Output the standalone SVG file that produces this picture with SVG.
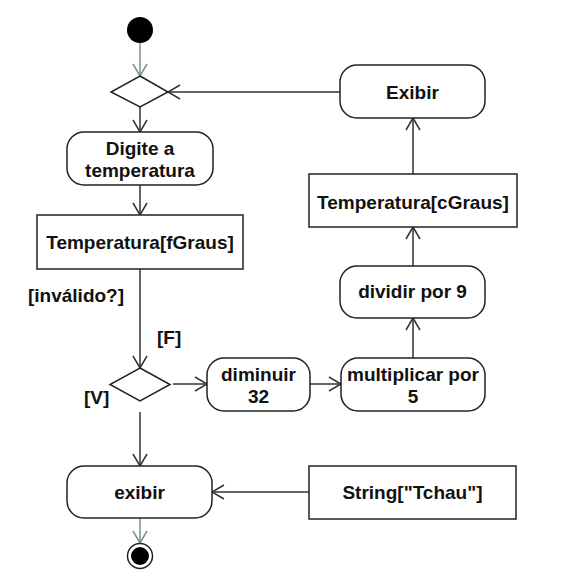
<svg xmlns="http://www.w3.org/2000/svg" width="562" height="578" viewBox="0 0 562 578">
<style>
text{font-family:"Liberation Sans",Arial,Helvetica,sans-serif;font-weight:bold;font-size:19px;fill:#111;}
.c{text-anchor:middle;}
.box{fill:#fff;stroke:#222;stroke-width:1.5;}
.ln{fill:none;stroke:#333;stroke-width:1.5;}
.gl{fill:none;stroke:#7d9090;stroke-width:1.5;}
</style>
<defs>
<marker id="ah" viewBox="0 0 14 16" refX="13" refY="8" markerWidth="14" markerHeight="16" markerUnits="userSpaceOnUse" orient="auto">
<path d="M1,1 L13,8 L1,15" fill="none" stroke="#333" stroke-width="1.5"/>
</marker>
<marker id="ahg" viewBox="0 0 14 16" refX="13" refY="8" markerWidth="14" markerHeight="16" markerUnits="userSpaceOnUse" orient="auto">
<path d="M1,1 L13,8 L1,15" fill="none" stroke="#7d9090" stroke-width="1.5"/>
</marker>
</defs>
<rect width="562" height="578" fill="#fff"/>
<g id="connectors">
<line class="gl" x1="140" y1="43" x2="140" y2="76" marker-end="url(#ahg)"/>
<line class="ln" x1="340" y1="92" x2="168" y2="92" marker-end="url(#ah)"/>
<line class="ln" x1="140" y1="107" x2="140" y2="132" marker-end="url(#ah)"/>
<line class="ln" x1="140" y1="185" x2="140" y2="215" marker-end="url(#ah)"/>
<line class="ln" x1="140" y1="269" x2="140" y2="368" marker-end="url(#ah)"/>
<line class="ln" x1="173" y1="384" x2="207" y2="384" marker-end="url(#ah)"/>
<line class="ln" x1="310" y1="384" x2="341" y2="384" marker-end="url(#ah)"/>
<line class="ln" x1="413" y1="358" x2="413" y2="318" marker-end="url(#ah)"/>
<line class="ln" x1="413" y1="266" x2="413" y2="227" marker-end="url(#ah)"/>
<line class="ln" x1="413" y1="174" x2="413" y2="118" marker-end="url(#ah)"/>
<line class="ln" x1="140" y1="412" x2="140" y2="466" marker-end="url(#ah)"/>
<line class="ln" x1="309" y1="492" x2="212" y2="492" marker-end="url(#ah)"/>
<line class="gl" x1="140" y1="518" x2="140" y2="543" marker-end="url(#ahg)"/>
<text x="28" y="302">[inválido?]</text>
<text x="157" y="344">[F]</text>
<text x="84" y="404">[V]</text>
</g>
<g id="start"><circle cx="140" cy="30" r="13" fill="#000"/></g>
<g id="merge"><polygon class="box" points="140,76 168,92 140,107 111,92"/></g>
<g id="digite"><rect class="box" x="67" y="132" width="146" height="53" rx="17"/><text class="c" x="140" y="155">Digite a</text><text class="c" x="140" y="177">temperatura</text></g>
<g id="tempF"><rect class="box" x="37" y="215" width="206" height="54"/><text class="c" x="140" y="249">Temperatura[fGraus]</text></g>
<g id="decision"><polygon class="box" points="140,368 170,384.5 140,401 110,384.5"/></g>
<g id="diminuir"><rect class="box" x="207" y="358" width="103" height="53" rx="17"/><text class="c" x="258.5" y="381">diminuir</text><text class="c" x="258.5" y="403">32</text></g>
<g id="multiplicar"><rect class="box" x="341" y="358" width="144" height="53" rx="17"/><text class="c" x="413" y="381">multiplicar por</text><text class="c" x="413" y="403">5</text></g>
<g id="dividir"><rect class="box" x="340" y="266" width="145" height="52" rx="17"/><text class="c" x="412.5" y="298">dividir por 9</text></g>
<g id="tempC"><rect class="box" x="309" y="174" width="208" height="53"/><text class="c" x="413" y="209">Temperatura[cGraus]</text></g>
<g id="exibir1"><rect class="box" x="340" y="65" width="145" height="53" rx="17"/><text class="c" x="412.5" y="99">Exibir</text></g>
<g id="exibir2"><rect class="box" x="67" y="466" width="145" height="52" rx="17"/><text class="c" x="139.5" y="499">exibir</text></g>
<g id="tchau"><rect class="box" x="309" y="466" width="207" height="53"/><text class="c" x="412.5" y="499">String["Tchau"]</text></g>
<g id="end"><circle cx="140" cy="556" r="12.5" fill="#fff" stroke="#222" stroke-width="1.5"/><circle cx="140" cy="556" r="9" fill="#000"/></g>
</svg>
